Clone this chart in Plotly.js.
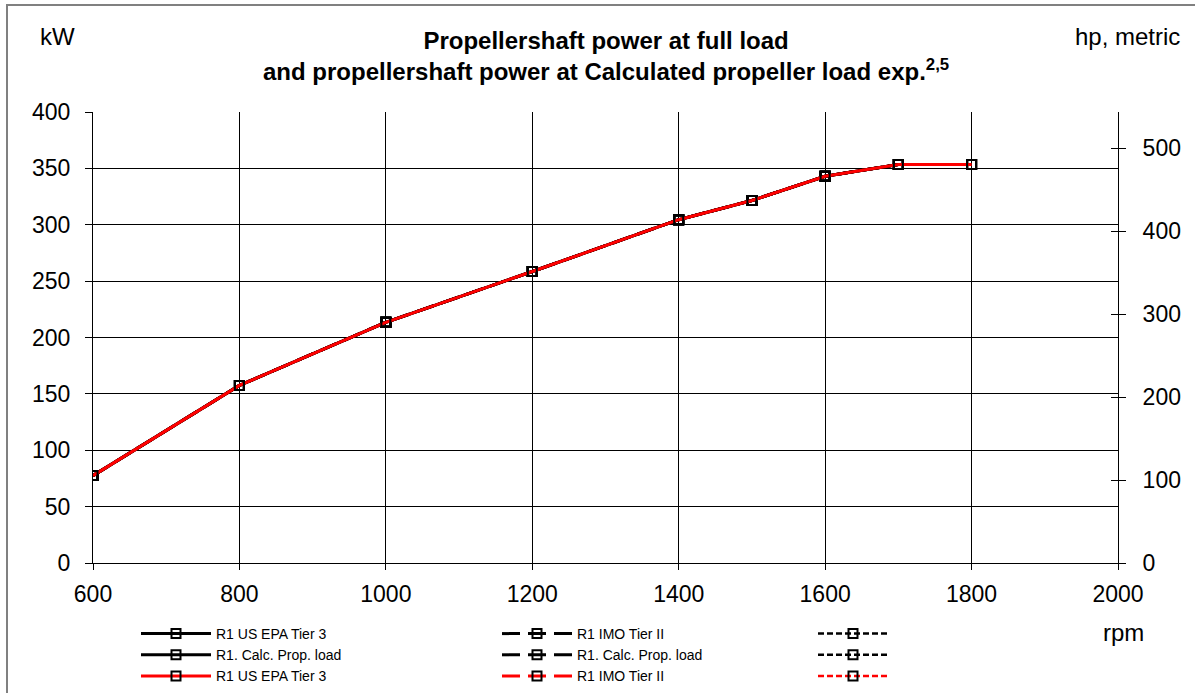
<!DOCTYPE html>
<html>
<head>
<meta charset="utf-8">
<script src="https://cdn.plot.ly/plotly-3.0.1.min.js"></script>
<style>
html,body{margin:0;padding:0;background:#fff;}
#chart{width:1195px;height:693px;}
</style>
</head>
<body>
<div id="chart"></div>
<script>
// Data
const rpm = [600, 800, 1000, 1200, 1400, 1500, 1600, 1700, 1800];
const powerKW = [77.5, 157.5, 213.5, 258.5, 304.5, 321.5, 343, 353.5, 353.5];
const seriesNames = ["R1 US EPA Tier 3", "R1. Calc. Prop. load", "R1 US EPA Tier 3",
                     "R1 IMO Tier II", "R1. Calc. Prop. load", "R1 IMO Tier II",
                     " ", " ", " "];
const kwTicks = [0, 50, 100, 150, 200, 250, 300, 350, 400];
const hpTicks = [0, 100, 200, 300, 400, 500];
const rpmTicks = [600, 800, 1000, 1200, 1400, 1600, 1800, 2000];
const KW_TO_HP = 1.35962;

const FONT = "Liberation Sans, Arial, sans-serif";

const styles = [
  {color: "#000000", dash: "solid",     width: 3,   legend: "legend",  rank: 1},
  {color: "#000000", dash: "solid",     width: 3,   legend: "legend",  rank: 2},
  {color: "#ff0000", dash: "solid",     width: 3,   legend: "legend",  rank: 3},
  {color: "#000000", dash: "18px,8px",  width: 3,   legend: "legend2", rank: 1},
  {color: "#000000", dash: "18px,8px",  width: 3,   legend: "legend2", rank: 2},
  {color: "#ff0000", dash: "18px,8px",  width: 3,   legend: "legend2", rank: 3},
  {color: "#000000", dash: "6px,3px",   width: 2.5, legend: "legend3", rank: 1},
  {color: "#000000", dash: "6px,3px",   width: 2.5, legend: "legend3", rank: 2},
  {color: "#ff0000", dash: "6px,3px",   width: 2.5, legend: "legend3", rank: 3}
];

// drawing order: dashed first, then solid black, red solid last on top
const drawOrder = [6, 7, 8, 3, 4, 5, 0, 1, 2];
const traces = drawOrder.map(i => ({
  type: "scatter",
  mode: "lines+markers",
  x: rpm,
  y: powerKW,
  name: seriesNames[i],
  legend: styles[i].legend,
  legendrank: styles[i].rank,
  legendgroup: "g" + i,
  line: {color: styles[i].color, width: styles[i].width, dash: styles[i].dash},
  marker: {symbol: "square-open", size: 9, color: "#000000", line: {width: 2, color: "#000000"}},
  hoverinfo: "x+y"
}));
// empty traces to attach the right (hp) axis and its inner ticks
traces.push({type: "scatter", x: [], y: [], yaxis: "y2", showlegend: false, hoverinfo: "skip"});
traces.push({type: "scatter", x: [], y: [], yaxis: "y3", showlegend: false, hoverinfo: "skip"});

const legendCommon = {
  orientation: "v",
  xref: "paper", yref: "container",
  xanchor: "left", yanchor: "top",
  bgcolor: "rgba(0,0,0,0)",
  font: {family: FONT, size: 14, color: "#000"},
  itemwidth: 70,
  tracegroupgap: 7,
  traceorder: "normal"
};
function px2x(p){ return (p - 93) / 1025; }
function py2y(p){ return (563 - p) / 451; }
function pyc(p){ return 1 - p / 693; }

const tickFont = {family: FONT, size: 23, color: "#000"};
const textFont = {family: FONT, size: 24, color: "#000"};

const layout = {
  width: 1195, height: 693,
  paper_bgcolor: "#ffffff", plot_bgcolor: "#ffffff",
  margin: {l: 93, r: 77, t: 112, b: 130, pad: 0},
  font: {family: FONT, color: "#000"},
  showlegend: true,
  xaxis: {
    range: [600, 2000],
    tickvals: rpmTicks,
    ticktext: rpmTicks.map(String),
    showgrid: true, gridcolor: "#000", gridwidth: 1,
    zeroline: false,
    showline: true, linecolor: "#000", linewidth: 1,
    ticks: "outside", ticklen: 6, tickcolor: "#000",
    tickfont: tickFont,
    ticklabelstandoff: 4,
    fixedrange: true
  },
  yaxis: {
    range: [0, 400],
    tickvals: kwTicks,
    showgrid: true, gridcolor: "#000", gridwidth: 1,
    zeroline: false,
    showline: true, linecolor: "#000", linewidth: 1,
    ticks: "outside", ticklen: 7, tickcolor: "#000",
    tickfont: tickFont,
    ticklabelstandoff: 10,
    fixedrange: true
  },
  yaxis2: {
    overlaying: "y", side: "right",
    range: [0, 400 * KW_TO_HP],
    tickvals: hpTicks,
    showgrid: false, zeroline: false,
    showline: true, linecolor: "#000", linewidth: 1,
    ticks: "outside", ticklen: 7, tickcolor: "#000",
    tickfont: tickFont,
    ticklabelstandoff: 12,
    fixedrange: true
  },
  yaxis3: {
    overlaying: "y", side: "right",
    range: [0, 400 * KW_TO_HP],
    tickvals: hpTicks,
    showgrid: false, zeroline: false, showline: false,
    showticklabels: false,
    ticks: "inside", ticklen: 7, tickcolor: "#000",
    fixedrange: true
  },
  legend:  Object.assign({}, legendCommon, {x: px2x(136), y: pyc(618)}),
  legend2: Object.assign({}, legendCommon, {x: px2x(497), y: pyc(618)}),
  legend3: Object.assign({}, legendCommon, {x: px2x(813), y: pyc(618)}),
  annotations: [
    {text: "<b>Propellershaft power at full load<br>and propellershaft power at Calculated propeller load exp.<sup>2,5</sup></b>",
     xref: "paper", yref: "paper", x: 0.5, y: py2y(55.5),
     xanchor: "center", yanchor: "middle", showarrow: false, align: "center",
     font: {family: FONT, size: 24, color: "#000"}},
    {text: "kW", xref: "paper", yref: "paper", x: px2x(57), y: py2y(36),
     xanchor: "center", yanchor: "middle", showarrow: false, font: textFont},
    {text: "hp, metric", xref: "paper", yref: "paper", x: px2x(1127), y: py2y(36),
     xanchor: "center", yanchor: "middle", showarrow: false, font: textFont},
    {text: "rpm", xref: "paper", yref: "paper", x: px2x(1123), y: py2y(632),
     xanchor: "center", yanchor: "middle", showarrow: false, font: textFont}
  ],
  shapes: [
    {type: "path", xref: "paper", yref: "paper",
     path: "M " + px2x(7) + " " + py2y(700) + " L " + px2x(7) + " " + py2y(5) + " L " + px2x(1200) + " " + py2y(5),
     line: {color: "#808080", width: 2}, layer: "below"}
  ]
};

Plotly.newPlot("chart", traces, layout, {displayModeBar: false, staticPlot: true});
</script>
</body>
</html>
